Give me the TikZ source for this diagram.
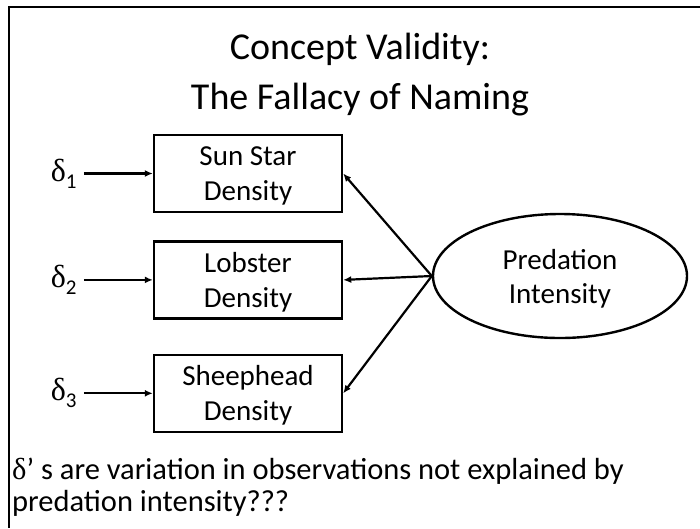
\documentclass[tikz,border=0pt]{standalone}
\usepackage{fontspec}
\setmainfont{Carlito}
\newfontfamily\greekfont{Liberation Serif}
\usetikzlibrary{arrows.meta, positioning, shapes.geometric}

\newcommand{\dlt}[1]{{\greekfont δ}\raisebox{-7pt}{\fontsize{21}{21}\selectfont #1}}

\begin{document}
\begin{tikzpicture}[
    x=1pt, y=-1pt,
    box/.style={draw, line width=2.4pt, align=center, minimum width=188pt, minimum height=77pt, inner sep=0pt, text depth=0pt, font=\fontsize{29}{35}\selectfont},
    latent/.style={draw, ellipse, line width=2.4pt, align=center, minimum width=254pt, minimum height=124pt, inner sep=0pt, text depth=-6pt, font=\fontsize{29}{34}\selectfont},
    err/.style={inner xsep=7pt, inner ysep=0pt, font=\fontsize{32}{38}\selectfont},
    arrow/.style={-{Latex[length=8pt,width=7pt]}, line width=2.2pt}
]
\useasboundingbox (0,0) rectangle (700,528);
\draw[line width=2.4pt] (700,7) -- (9,7) -- (9,528);

\node[font=\fontsize{38}{50}\selectfont, align=center, inner sep=0pt, anchor=north] (title) at (360,33) {Concept Validity:\\The Fallacy of Naming};

\node[box] (sun) at (248,173.5) {Sun Star\\Density};
\node[box, below=27pt of sun] (lob) {Lobster\\Density};
\node[box, below=34pt of lob] (sheep) {Sheephead\\Density};
\node[latent] (pred) at (560,276) {Predation\\Intensity};

\node[err, left=69pt of sun] (d1) {\dlt{1}};
\node[err, left=69pt of lob] (d2) {\dlt{2}};
\node[err, left=69pt of sheep] (d3) {\dlt{3}};

\draw[arrow] (d1) -- (sun);
\draw[arrow] (d2) -- (lob);
\draw[arrow] (d3) -- (sheep);
\draw[arrow] (pred.west) -- (sun.east);
\draw[arrow] (pred.west) -- (lob.east);
\draw[arrow] (pred.west) -- (sheep.east);

\node[anchor=north west, align=left, inner sep=0pt, font=\fontsize{30.5}{32}\selectfont] (note) at (12,458) {{\greekfont δ}’ s are variation in observations not explained by\\predation intensity???};
\end{tikzpicture}
\end{document}
